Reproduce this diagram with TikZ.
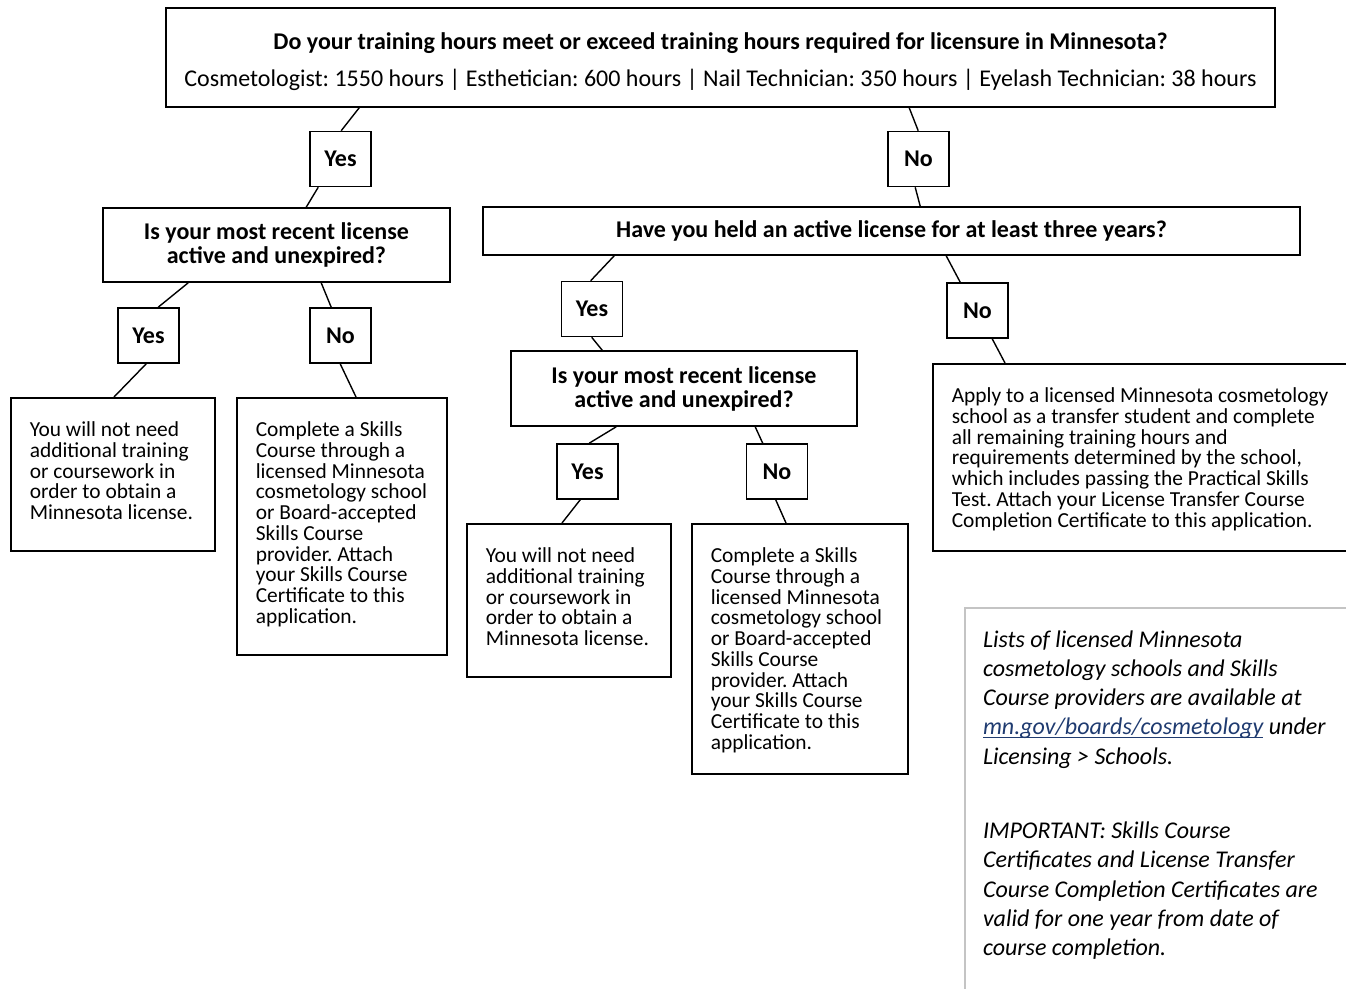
\documentclass[tikz,border=0pt]{standalone}
\usepackage{fontspec}
\setmainfont{Carlito}
\usetikzlibrary{calc}
\definecolor{linkblue}{HTML}{1F3B70}
\definecolor{notegrey}{HTML}{C4C4C4}
\frenchspacing
\newsavebox{\linkbox}
\newcommand{\linktext}[1]{\leavevmode\sbox{\linkbox}{#1}\rlap{\rule[-3pt]{\wd\linkbox}{1pt}}\usebox{\linkbox}}
\newcommand{\leaftext}[3]{\parbox[c][#2][t]{#1}{\raggedright\rule{0pt}{39pt}#3}}

\begin{document}
\begin{tikzpicture}[x=1pt,y=-1pt,
		question/.style={draw, line width=1.6pt, align=center, inner sep=0pt, font=\bfseries\fontsize{24}{24}\selectfont},
		answer/.style={draw, line width=1.6pt, fill=white, minimum width=61pt, minimum height=55pt, inner sep=0pt, font=\bfseries\fontsize{24}{24}\selectfont},
		leaf/.style={draw, line width=1.6pt, anchor=north west, inner xsep=19pt, inner ysep=0pt, font=\fontsize{21.4}{20.7}\selectfont},
		conn/.style={line width=1.4pt}]
		\useasboundingbox (0,0) rectangle (1346,988);
		\node[question, minimum width=1109pt, minimum height=99pt] (top) at (720.5,57.5) {\rule{0pt}{25pt}Do your training hours meet or exceed training hours required for licensure in Minnesota?\\[13pt]\mdseries Cosmetologist: 1550 hours | Esthetician: 600 hours | Nail Technician: 350 hours | Eyelash Technician: 38 hours};
		\node[question, minimum width=347pt, minimum height=74pt] (q1) at (276.5,245) {Is your most recent license\\active and unexpired?};
		\node[question, minimum width=817pt, minimum height=48pt] (q2) at (891.5,231) {Have you held an active license for at least three years?};
		\node[question, minimum width=346pt, minimum height=75pt] (q3) at (684,388.5) {Is your most recent license\\active and unexpired?};
		\node[answer] (yes1) at (340.5,159) {Yes};
		\node[answer] (no1) at (918.5,159) {No};
		\node[answer] (yes2) at (148.5,335.5) {Yes};
		\node[answer] (no2) at (340.5,335.5) {No};
		\node[answer] (yes3) at (592,309) {Yes};
		\node[answer] (no3) at (977.5,310.5) {No};
		\node[answer] (yes4) at (587.5,471.5) {Yes};
		\node[answer] (no4) at (777,471.5) {No};
		\node[leaf] (l1) at (10,397) {\leaftext{166pt}{153pt}{You will not need\\additional training\\or coursework in\\order to obtain a\\Minnesota license.}};
		\node[leaf] (l2) at (236,397) {\leaftext{172pt}{257pt}{Complete a Skills\\Course through a\\licensed Minnesota\\cosmetology school\\or Board-accepted\\Skills Course\\provider. Attach\\your Skills Course\\Certificate to this\\application.}};
		\node[leaf] (l3) at (466,523) {\leaftext{166pt}{153pt}{You will not need\\additional training\\or coursework in\\order to obtain a\\Minnesota license.}};
		\node[leaf] (l4) at (691,523) {\leaftext{178pt}{250pt}{Complete a Skills\\Course through a\\licensed Minnesota\\cosmetology school\\or Board-accepted\\Skills Course\\provider. Attach\\your Skills Course\\Certificate to this\\application.}};
		\node[leaf] (l5) at (932,363) {\leaftext{390pt}{187pt}{Apply to a licensed Minnesota cosmetology\\school as a transfer student and complete\\all remaining training hours and\\requirements determined by the school,\\which includes passing the Practical Skills\\Test. Attach your License Transfer Course\\Completion Certificate to this application.}};
		\node[leaf, draw=notegrey, line width=2pt, inner xsep=18pt, font=\itshape\fontsize{24}{29.3}\selectfont] (note) at (964,607) {\leaftext{400pt}{420pt}{Lists of licensed Minnesota\\cosmetology schools and Skills\\Course providers are available at\\{\color{linkblue}\linktext{mn.gov/boards/cosmetology}} under\\Licensing > Schools.\\[45pt]IMPORTANT: Skills Course\\Certificates and License Transfer\\Course Completion Certificates are\\valid for one year from date of\\course completion.}};
		\draw[conn] ($(top.south west)+(194,0)$) -- ($(yes1.north west)+(32,0)$);
		\draw[conn] ($(yes1.south west)+(9,0)$) -- ($(q1.north west)+(204,0)$);
		\draw[conn] ($(top.south west)+(744,0)$) -- ($(no1.north west)+(31,0)$);
		\draw[conn] ($(no1.south west)+(28,0)$) -- ($(q2.north west)+(438,0)$);
		\draw[conn] ($(q1.south west)+(86,0)$) -- ($(yes2.north west)+(41,0)$);
		\draw[conn] ($(yes2.south west)+(29,0)$) -- ($(l1.north west)+(104,0)$);
		\draw[conn] ($(q1.south west)+(219,0)$) -- ($(no2.north west)+(22,0)$);
		\draw[conn] ($(no2.south west)+(31,0)$) -- ($(l2.north west)+(120,0)$);
		\draw[conn] ($(q2.south west)+(132,0)$) -- ($(yes3.north west)+(30,0)$);
		\draw[conn] ($(yes3.south west)+(31,0)$) -- ($(q3.north west)+(92,0)$);
		\draw[conn] ($(q2.south west)+(464,0)$) -- ($(no3.north west)+(14,0)$);
		\draw[conn] ($(no3.south west)+(46,0)$) -- ($(l5.north west)+(73,0)$);
		\draw[conn] ($(q3.south west)+(106,0)$) -- ($(yes4.north west)+(33,0)$);
		\draw[conn] ($(yes4.south west)+(24,0)$) -- ($(l3.north west)+(96,0)$);
		\draw[conn] ($(q3.south west)+(245,0)$) -- ($(no4.north west)+(17,0)$);
		\draw[conn] ($(no4.south west)+(30,0)$) -- ($(l4.north west)+(95,0)$);
\end{tikzpicture}
\end{document}
